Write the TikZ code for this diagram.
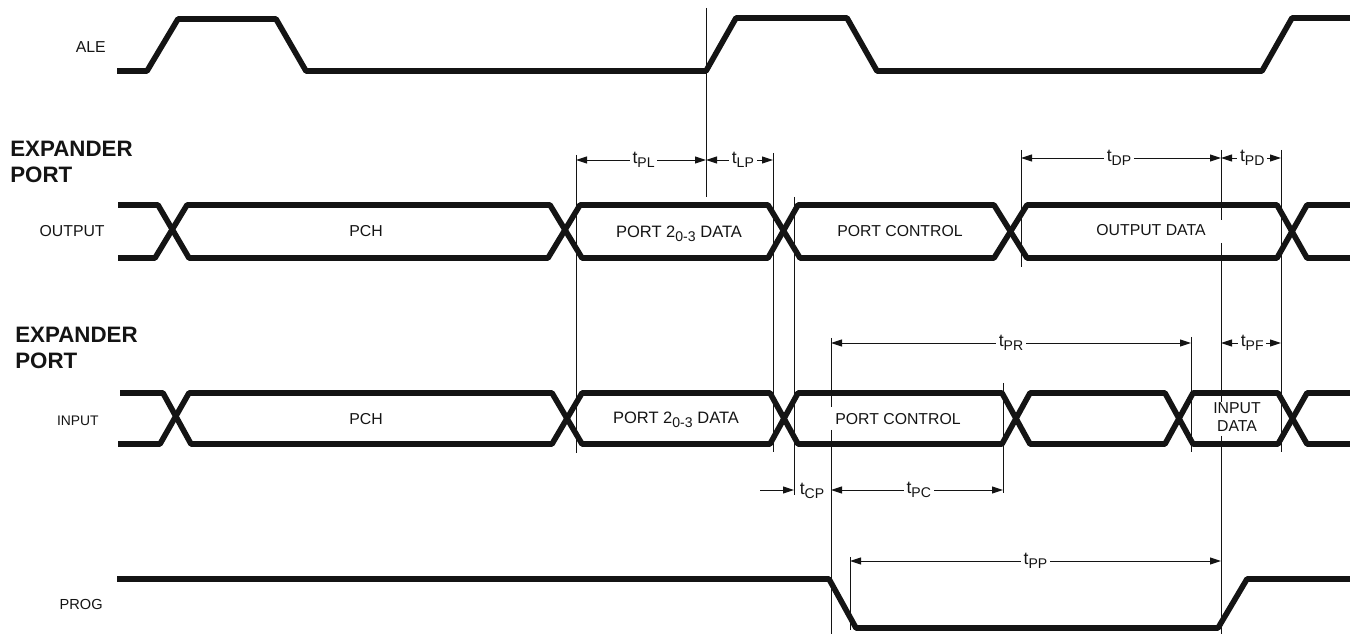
\documentclass[tikz,border=0pt]{standalone}
\usepackage{fontspec}
\setmainfont{Liberation Sans}
\usepackage{xcolor}
\usetikzlibrary{arrows.meta}
\definecolor{ink}{RGB}{20,20,20}
\newcommand{\lowsub}[1]{\raisebox{-0.45ex}{\fontsize{8}{8}\selectfont #1}}
\newcommand{\tname}[1]{t\lowsub{#1}}

\begin{document}
\begin{tikzpicture}[
    x=0.02cm, y=-0.02cm,
    every node/.style={font=\fontsize{9}{10.5}\selectfont, text=ink},
    signal/.style={draw=ink, line width=3.2pt, line join=round},
    guide/.style={draw=ink, line width=0.55pt},
    dimline/.style={draw=ink, line width=0.55pt, {Stealth[length=0.22cm,width=0.14cm,inset=0pt]}-{Stealth[length=0.22cm,width=0.14cm,inset=0pt]}},
    dimright/.style={draw=ink, line width=0.55pt, -{Stealth[length=0.22cm,width=0.14cm,inset=0pt]}},
    dimlabel/.style={font=\fontsize{10}{10}\selectfont, fill=white, inner sep=1.5pt},
    portlabel/.style={font=\fontsize{12.7}{14.7}\selectfont\bfseries, align=left, anchor=west, inner sep=0pt},
    siglabel/.style={anchor=east, inner sep=0pt},
    datalabel/.style={font=\fontsize{9.4}{10.5}\selectfont}
]
\useasboundingbox (0,0) rectangle (1350,634);

% Signal names
\node[siglabel] (ale) at (106,47) {ALE};
\node[portlabel] (outport) at (10,162) {EXPANDER\\PORT};
\node[siglabel] (output) at (105,231) {OUTPUT};
\node[portlabel] (inport) at (15,348) {EXPANDER\\PORT};
\node[siglabel, font=\fontsize{7.9}{10}\selectfont] (input) at (99,421) {INPUT};
\node[siglabel, font=\fontsize{8.3}{10}\selectfont] (prog) at (103,604) {PROG};

% Waveforms
\draw[signal] (117,71) -- (147,71) -- (178,19) -- (276,19) -- (306,71) -- (706,71) -- (736,18) -- (847,18) -- (877,71) -- (1262,71) -- (1292,18) -- (1350,18);

\draw[signal] (118,205) -- (158,205) -- (189,258) -- (548,258) -- (580,205) -- (768,205) -- (800,258) -- (994,258) -- (1027,205) -- (1277,205) -- (1307,258) -- (1350,258);
\draw[signal] (118,258) -- (155,258) -- (187,205) -- (550,205) -- (582,258) -- (768,258) -- (798,205) -- (994,205) -- (1027,258) -- (1277,258) -- (1307,205) -- (1350,205);

\draw[signal] (120,393) -- (163,393) -- (191,444) -- (552,444) -- (582,393) -- (770,393) -- (798,444) -- (1002,444) -- (1030,393) -- (1165,393) -- (1193,444) -- (1278,444) -- (1307,393) -- (1350,393);
\draw[signal] (118,444) -- (160,444) -- (189,393) -- (552,393) -- (582,444) -- (770,444) -- (798,393) -- (1002,393) -- (1030,444) -- (1165,444) -- (1193,393) -- (1278,393) -- (1307,444) -- (1350,444);

\draw[signal] (117,579) -- (829,579) -- (856,628) -- (1218,628) -- (1247,579) -- (1350,579);

% Bus contents
\node (pchout) at (366,231) {PCH};
\node[datalabel] (dataout) at (679,234) {PORT 2\lowsub{0-3} DATA};
\node (ctrlout) at (900,231) {PORT CONTROL};
\node (outdata) at (1151,230) {OUTPUT DATA};
\node (pchin) at (366,419) {PCH};
\node[datalabel] (datain) at (676,420) {PORT 2\lowsub{0-3} DATA};
\node (ctrlin) at (898,419) {PORT CONTROL};
\node[align=center] (indata) at (1237,417) {INPUT\\DATA};

% Guide lines
\draw[guide] (706,8) -- (706,197);
\draw[guide] (576,155) -- (576,453);
\draw[guide] (773,153) -- (773,452);
\draw[guide] (794,197) -- (794,495);
\draw[guide] (1021,150) -- (1021,267);
\draw[guide] (1221,150) -- (1221,220);
\draw[guide] (1221,243) -- (1221,402);
\draw[guide] (1221,436) -- (1221,634);
\draw[guide] (1281,150) -- (1281,452);
\draw[guide] (831,338) -- (831,407);
\draw[guide] (831,430) -- (831,634);
\draw[guide] (1191,337) -- (1191,452);
\draw[guide] (1003,383) -- (1003,493);
\draw[guide] (850,557) -- (850,630);

% Timing marks
\coordinate (pla) at (576,160);
\coordinate (plb) at (706,160);
\coordinate (lpb) at (773,160);
\coordinate (dpa) at (1021,158);
\coordinate (dpb) at (1221,158);
\coordinate (pdb) at (1281,158);
\coordinate (pra) at (831,343);
\coordinate (prb) at (1191,343);
\coordinate (pfa) at (1221,343);
\coordinate (pfb) at (1281,343);
\coordinate (cpa) at (760,490);
\coordinate (cpb) at (794,490);
\coordinate (pca) at (831,490);
\coordinate (pcb) at (1003,490);
\coordinate (ppa) at (850,561);
\coordinate (ppb) at (1221,561);

\draw[dimline] (pla) -- node[dimlabel, pos=0.52] (tpl) {\tname{PL}} (plb);
\draw[dimline] (plb) -- node[dimlabel, pos=0.55] (tlp) {\tname{LP}} (lpb);
\draw[dimline] (dpa) -- node[dimlabel, pos=0.49] (tdp) {\tname{DP}} (dpb);
\draw[dimline] (dpb) -- node[dimlabel, pos=0.52] (tpd) {\tname{PD}} (pdb);
\draw[dimline] (pra) -- node[dimlabel, pos=0.5] (tpr) {\tname{PR}} (prb);
\draw[dimline] (pfa) -- node[dimlabel, pos=0.52] (tpf) {\tname{PF}} (pfb);
\draw[dimright] (cpa) -- (cpb);
\node[dimlabel] (tcp) at (812,491) {\tname{CP}};
\draw[dimline] (pca) -- node[dimlabel, pos=0.51] (tpc) {\tname{PC}} (pcb);
\draw[dimline] (ppa) -- node[dimlabel, pos=0.50] (tpp) {\tname{PP}} (ppb);

\end{tikzpicture}
\end{document}
